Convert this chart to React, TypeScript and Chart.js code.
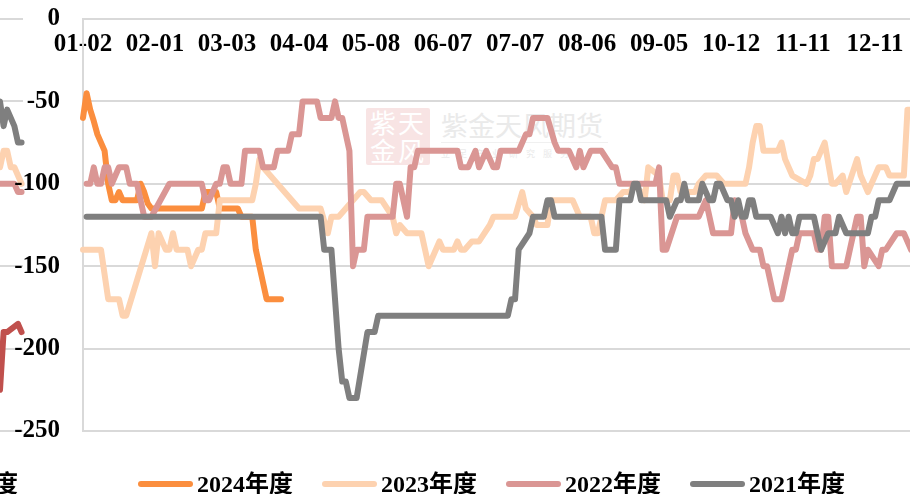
import React, { useEffect, useRef } from "react";
import { Chart, registerables } from "chart.js";

Chart.register(...registerables);

const FONT = "'Liberation Serif','Noto Sans CJK SC',serif";
const xTickLabels = ["01-02", "02-01", "03-03", "04-04", "05-08", "06-07", "07-07", "08-06", "09-05", "10-12", "11-11", "12-11"];
const legendLabels = ["2024年度", "2023年度", "2022年度", "2021年度"];
const clippedLegendText = "度";
const colors = ["#FB8E3E", "#FDD2B0", "#DA9694", "#7F7F7F"];
const stripRed = "#C0504D";

// [trading-day index, value]
const s2024 = [[0,-60],[1,-45],[2,-55],[3,-62],[4,-70],[5,-75],[6,-80],[7,-100],[8,-110],[9,-110],[10,-105],[11,-110],[15,-110],[16,-100],[17,-105],[18,-112],[19,-115],[33,-115],[34,-105],[37,-105],[38,-115],[43,-115],[44,-120],[47,-120],[48,-140],[50,-160],[51,-170],[55,-170]];
const s2023 = [[0,-140],[5,-140],[7,-170],[10,-170],[11,-180],[12,-180],[19,-130],[20,-150],[21,-130],[23,-140],[24,-140],[25,-130],[26,-140],[29,-140],[30,-150],[32,-140],[33,-140],[34,-130],[37,-130],[38,-110],[47,-110],[48,-100],[49,-85],[50,-90],[60,-115],[66,-115],[68,-130],[69,-120],[71,-120],[73,-115],[77,-105],[78,-105],[80,-110],[83,-110],[86,-120],[87,-130],[88,-125],[90,-130],[94,-130],[95,-140],[96,-150],[97,-145],[99,-135],[100,-140],[103,-140],[104,-135],[105,-140],[106,-140],[108,-135],[110,-135],[113,-125],[114,-120],[120,-120],[122,-105],[123,-115],[125,-120],[126,-125],[129,-125],[130,-110],[136,-110],[138,-120],[141,-120],[142,-130],[143,-130],[145,-110],[148,-110],[150,-105],[152,-105],[153,-100],[155,-105],[156,-110],[157,-90],[160,-95],[161,-110],[163,-110],[164,-95],[165,-95],[166,-105],[170,-105],[171,-100],[173,-95],[176,-95],[178,-100],[184,-100],[185,-90],[186,-75],[187,-65],[188,-65],[189,-80],[193,-80],[194,-75],[195,-85],[197,-95],[201,-100],[202,-95],[203,-85],[204,-85],[206,-75],[208,-100],[209,-100],[211,-95],[212,-105],[215,-85],[216,-95],[218,-105],[221,-90],[223,-90],[224,-95],[228,-95],[229,-55],[230,-55]];
const s2022 = [[1,-100],[2,-100],[3,-90],[4,-100],[5,-100],[6,-90],[7,-90],[8,-100],[10,-90],[12,-90],[13,-100],[15,-100],[16,-110],[17,-120],[19,-120],[24,-100],[33,-100],[34,-110],[35,-110],[37,-100],[38,-100],[39,-90],[40,-90],[41,-100],[44,-100],[45,-80],[49,-80],[50,-90],[53,-90],[54,-80],[57,-80],[58,-70],[60,-70],[61,-50],[65,-50],[66,-60],[69,-60],[70,-50],[71,-60],[72,-60],[73,-70],[74,-80],[75,-150],[76,-140],[78,-140],[79,-120],[86,-120],[87,-100],[88,-100],[90,-120],[91,-90],[92,-90],[93,-80],[104,-80],[105,-90],[107,-90],[109,-80],[110,-90],[112,-80],[114,-90],[115,-90],[116,-80],[121,-80],[123,-70],[124,-70],[125,-60],[129,-60],[131,-75],[132,-80],[135,-80],[137,-90],[138,-80],[139,-90],[141,-80],[144,-80],[147,-90],[148,-90],[149,-100],[159,-100],[160,-90],[161,-140],[162,-140],[165,-120],[171,-120],[173,-110],[175,-130],[180,-130],[181,-110],[183,-120],[184,-130],[186,-140],[188,-140],[189,-150],[190,-150],[192,-170],[194,-170],[197,-140],[198,-140],[199,-130],[203,-130],[204,-140],[205,-140],[206,-120],[207,-120],[208,-150],[212,-150],[213,-140],[214,-130],[215,-120],[216,-120],[217,-150],[218,-140],[221,-150],[222,-140],[223,-140],[226,-130],[228,-130],[230,-140]];
const s2021 = [[1,-120],[66,-120],[67,-140],[69,-140],[71,-200],[72,-220],[73,-220],[74,-230],[76,-230],[79,-190],[81,-190],[82,-180],[118,-180],[119,-170],[120,-170],[121,-140],[124,-130],[125,-120],[128,-120],[129,-110],[130,-110],[131,-120],[144,-120],[145,-140],[148,-140],[149,-110],[152,-110],[153,-100],[154,-100],[155,-110],[162,-110],[163,-120],[165,-110],[166,-110],[167,-100],[168,-110],[171,-110],[172,-100],[174,-110],[175,-110],[176,-100],[177,-100],[179,-110],[180,-110],[181,-120],[182,-110],[183,-120],[184,-120],[185,-110],[186,-110],[187,-120],[191,-120],[193,-130],[194,-120],[195,-130],[196,-120],[197,-130],[198,-130],[199,-120],[203,-120],[204,-130],[205,-140],[206,-135],[207,-130],[209,-130],[210,-120],[212,-130],[218,-130],[219,-120],[220,-120],[221,-110],[224,-110],[226,-100],[230,-100]];

// tails of the series visible in the narrow strip at the left edge
const stripGray = [[224,-50],[225,-65],[226,-55],[228,-65],[229,-75],[230,-75]];
const stripPeach = [[224,-90],[225,-80],[226,-80],[227,-90],[228,-90],[229,-95],[230,-100]];
const stripPink = [[224,-100],[228,-100],[229,-105],[230,-105]];
const stripRedLine = [[224,-225],[225,-190],[226,-190],[229,-185],[230,-190]];

const toXY = (s: number[][]) => s.map(([x, y]) => ({ x, y }));
const line = (data: number[][], color: string, order: number, label: string) => ({
  label,
  data: toXY(data),
  borderColor: color,
  backgroundColor: color,
  borderWidth: 6,
  pointRadius: 0,
  tension: 0,
  borderCapStyle: "round",
  borderJoinStyle: "round",
  clip: false,
  order,
});

const abs = (s: React.CSSProperties): React.CSSProperties => ({ position: "absolute", whiteSpace: "nowrap", ...s });

export default function App() {
  const mainRef = useRef<HTMLCanvasElement>(null);
  const stripRef = useRef<HTMLCanvasElement>(null);

  useEffect(() => {
    const grid = { color: "#D9D9D9", lineWidth: 2, drawTicks: false };
    const base = { responsive: false, animation: false as const, events: [] as string[] };
    const main = new Chart(mainRef.current!, {
      type: "line",
      data: {
        datasets: [
          line(s2024, colors[0], 4, legendLabels[0]),
          line(s2023, colors[1], 3, legendLabels[1]),
          line(s2022, colors[2], 2, legendLabels[2]),
          line(s2021, colors[3], 1, legendLabels[3]),
        ] as any,
      },
      options: {
        ...base,
        layout: { autoPadding: false, padding: { top: 19, bottom: 63, left: 0, right: 0 } },
        plugins: { legend: { display: false }, tooltip: { enabled: false } },
        scales: {
          x: {
            type: "linear",
            position: "top",
            min: 0,
            max: 229.7,
            afterFit: (s: any) => {
              s.height = 0;
              s.paddingLeft = 0;
              s.paddingRight = 0;
              // the labels hang below the axis line, inside the plot: do not clip them to the zero-height axis box
              s._computeLabelArea = () => undefined;
            },
            grid: { display: false, drawTicks: false },
            border: { display: false },
            ticks: {
              stepSize: 20,
              includeBounds: false,
              autoSkip: false,
              maxRotation: 0,
              padding: -41,
              color: "#000",
              font: { family: FONT, size: 25, weight: "bold" },
              callback: (v: any) => xTickLabels[Math.round(Number(v) / 20)] ?? "",
            },
          },
          y: {
            type: "linear",
            min: -250,
            max: 0,
            afterFit: (s: any) => { s.width = 83; s.paddingTop = 0; s.paddingBottom = 0; },
            grid,
            border: { display: true, color: "#D9D9D9", width: 2 },
            ticks: {
              stepSize: 50,
              padding: 23,
              color: "#000",
              font: { family: FONT, size: 25, weight: "bold" },
            },
          },
        },
      } as any,
    });

    const strip = new Chart(stripRef.current!, {
      type: "line",
      data: {
        datasets: [
          line(stripGray, colors[3], 1, "gray"),
          line(stripPeach, colors[1], 3, "peach"),
          line(stripPink, colors[2], 2, "pink"),
          line(stripRedLine, stripRed, 4, "red"),
        ] as any,
      },
      options: {
        ...base,
        layout: { autoPadding: false, padding: { top: 19, bottom: 63, left: 0, right: 2 } },
        plugins: { legend: { display: false }, tooltip: { enabled: false } },
        scales: {
          x: { type: "linear", display: false, min: 224, max: 230.4 },
          y: {
            type: "linear",
            min: -250,
            max: 0,
            afterFit: (s: any) => { s.width = 0; },
            grid,
            border: { display: false },
            ticks: { stepSize: 50, display: false },
          },
        },
      } as any,
    });

    return () => { main.destroy(); strip.destroy(); };
  }, []);

  const legendText: React.CSSProperties = { fontFamily: FONT, fontWeight: "bold", fontSize: 24, lineHeight: "28px", color: "#000" };
  return (
    <div style={{ position: "fixed", left: 0, top: 0, width: 910, height: 494, overflow: "hidden", background: "#fff" }}>
      {/* faint watermark behind the chart */}
      <div style={abs({ left: 366, top: 108, width: 64, height: 57, background: "#F8E4E4", borderRadius: 2 })} />
      <div style={abs({ left: 370, top: 108, width: 60, fontFamily: "'Noto Sans CJK SC'", fontSize: 26, lineHeight: "28px", color: "#FFF", whiteSpace: "normal", letterSpacing: 2 })}>紫天金风</div>
      <div style={abs({ left: 441, top: 106, fontFamily: "'Noto Sans CJK SC'", fontSize: 27, lineHeight: "38px", color: "#EAEAEA" })}>紫金天风期货</div>
      <div style={abs({ left: 441, top: 142, width: 167, height: 1, background: "#F0F0F0" })} />
      <div style={abs({ left: 441, top: 148, fontFamily: "'Noto Sans CJK SC'", fontSize: 9, lineHeight: "12px", color: "#EAEAEA", letterSpacing: 8 })}>立足产业研究服务</div>

      <canvas ref={stripRef} width={25} height={494} style={abs({ left: 0, top: 0, width: 25, height: 494 })} />
      <canvas ref={mainRef} width={910} height={494} style={abs({ left: 0, top: 0, width: 910, height: 494 })} />

      <div style={abs({ ...legendText, left: -6, top: 470 })}>{clippedLegendText}</div>
      {legendLabels.map((t, i) => (
        <React.Fragment key={t}>
          <div style={abs({ left: 138 + i * 184, top: 481, width: 55, height: 5.5, borderRadius: 3, background: colors[i] })} />
          <div style={abs({ ...legendText, left: 197 + i * 184, top: 470 })}>{t}</div>
        </React.Fragment>
      ))}
    </div>
  );
}
